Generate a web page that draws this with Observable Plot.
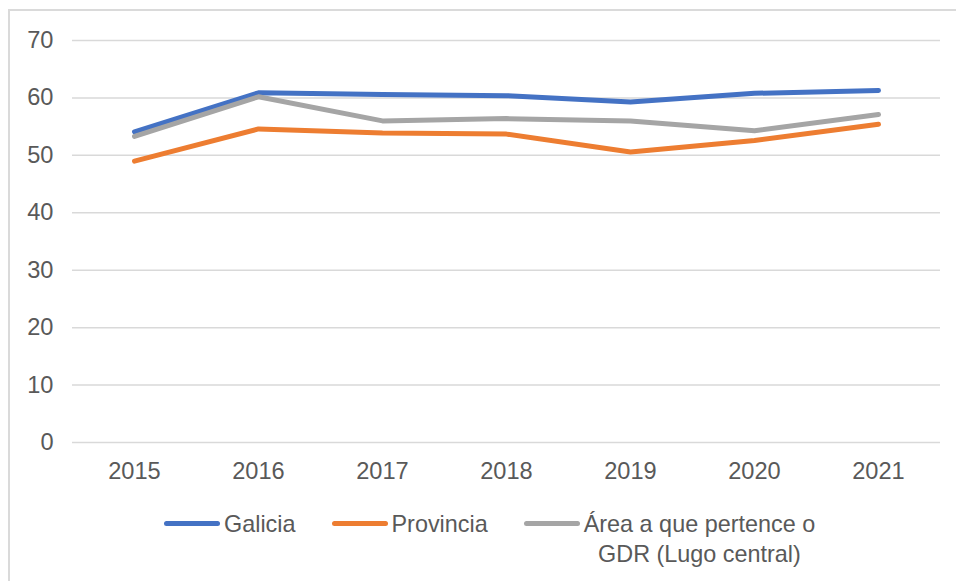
<!DOCTYPE html>
<html>
<head>
<meta charset="utf-8">
<script src="https://cdn.jsdelivr.net/npm/d3@7"></script>
<script src="https://cdn.jsdelivr.net/npm/@observablehq/plot@0.6"></script>
<style>
  html, body { margin: 0; padding: 0; background: #fff; }
  body { width: 956px; height: 581px; position: relative; overflow: hidden;
         font-family: "Liberation Sans", Arial, sans-serif; }
  #frame { position: absolute; left: 8px; top: 9px; right: -4px; bottom: -4px;
           border-top: 2px solid #dadada; border-left: 2px solid #dadada; }
  #chart { position: absolute; left: 0; top: 0; }
  #legend { position: absolute; left: 164px; top: 509px; display: flex;
            align-items: flex-start; gap: 36px; color: #595959;
            font-size: 23.4px; line-height: 30px; }
  .item { display: flex; align-items: flex-start; gap: 4px; }
  .swatch { width: 56px; height: 5px; border-radius: 3px; margin-top: 11.5px; flex: none; }
  .label { white-space: pre-line; text-align: center; }
</style>
</head>
<body>
<div id="frame"></div>
<div id="chart"></div>
<div id="legend"></div>
<script>
// Years on the horizontal axis
const years = ["2015", "2016", "2017", "2018", "2019", "2020", "2021"];

// Series values per year
const galicia   = [54.1, 60.9, 60.6, 60.4, 59.3, 60.8, 61.3];
const provincia = [49.0, 54.6, 53.9, 53.7, 50.6, 52.6, 55.4];
const area      = [53.3, 60.2, 56.0, 56.4, 56.0, 54.3, 57.1];

// Series names (legend labels, wrapped as in the key) and colours
const seriesNames = ["Galicia", "Provincia", "Área a que pertence o\nGDR (Lugo central)"];
const seriesColors = ["#4472C4", "#ED7D31", "#A5A5A5"];

// Y axis ticks
const yTicks = [0, 10, 20, 30, 40, 50, 60, 70];

// Long-format table for Plot
const seriesValues = [galicia, provincia, area];
const rows = seriesNames.flatMap((name, i) =>
  years.map((year, j) => ({series: name, year, value: seriesValues[i][j]}))
);

const chart = Plot.plot({
  width: 956,
  height: 490,
  marginLeft: 72,
  marginRight: 16,
  marginTop: 40,
  marginBottom: 48,
  style: {fontFamily: "'Liberation Sans', Arial, sans-serif", fontSize: "23.6px", color: "#595959", background: "transparent"},
  x: {type: "point", domain: years, padding: 0.5, label: null},
  y: {domain: [0, 70], label: null},
  color: {domain: seriesNames, range: seriesColors},
  marks: [
    Plot.ruleY(yTicks, {stroke: "#d9d9d9", strokeWidth: 1.5}),
    Plot.axisY({ticks: yTicks, tickSize: 0, tickPadding: 19, label: null, fill: "#595959"}),
    Plot.axisX({tickSize: 0, tickPadding: 20, label: null, fill: "#595959"}),
    Plot.line(rows, {
      x: "year", y: "value", z: "series", stroke: "series",
      strokeWidth: 5, strokeLinecap: "round", strokeLinejoin: "round"
    })
  ]
});
document.getElementById("chart").appendChild(chart);

// Legend below the chart
const legend = d3.select("#legend");
seriesNames.forEach((name, i) => {
  const item = legend.append("div").attr("class", "item");
  item.append("div").attr("class", "swatch").style("background", seriesColors[i]);
  item.append("div").attr("class", "label").text(name);
});
</script>
</body>
</html>
